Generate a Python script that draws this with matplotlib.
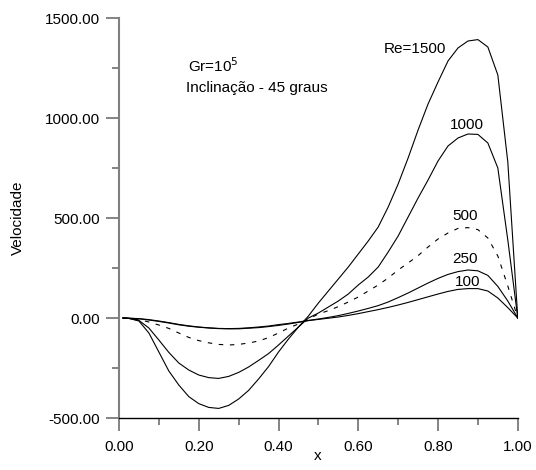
import numpy as np
import matplotlib.pyplot as plt
from matplotlib.ticker import MultipleLocator, FormatStrFormatter

plt.rcParams['font.family'] = ['Liberation Sans', 'DejaVu Sans']

# posicoes x
x = [0.01, 0.025, 0.05, 0.075, 0.10, 0.125, 0.15, 0.175, 0.20, 0.225,
     0.25, 0.275, 0.30, 0.325, 0.35, 0.375, 0.40, 0.425, 0.45, 0.475,
     0.50, 0.525, 0.55, 0.575, 0.60, 0.625, 0.65, 0.675, 0.70, 0.725,
     0.75, 0.775, 0.80, 0.825, 0.85, 0.875, 0.90, 0.925, 0.95, 0.975, 1.00]

re100 = [0, -1, -4, -10, -17, -25, -34, -41, -46, -50,
         -53, -54, -54, -51, -48, -43, -37, -30, -22, -13,
         -7, -1, 5, 13, 22, 32, 42, 53, 65, 78,
         92, 106, 120, 133, 143, 147, 147, 135, 100, 52, 0]
re250 = [0, -1, -3, -8, -15, -23, -32, -39, -45, -49,
         -52, -53, -52, -49, -45, -40, -33, -27, -20, -12,
         -5, 3, 12, 23, 35, 48, 62, 80, 102, 125,
         150, 175, 198, 218, 232, 240, 236, 213, 158, 85, 0]
re500 = [0, -2, -8, -20, -35, -52, -75, -97, -113, -124,
         -132, -135, -132, -125, -115, -98, -75, -50, -30, -5,
         20, 37, 57, 80, 105, 135, 165, 200, 240, 275,
         312, 355, 395, 425, 448, 452, 442, 400, 310, 160, 0]
re1000 = [0, -2, -12, -50, -110, -172, -225, -260, -285, -298,
          -302, -292, -272, -245, -212, -178, -135, -90, -45, 0,
          25, 55, 85, 120, 165, 205, 255, 330, 410, 505,
          600, 690, 785, 860, 900, 920, 918, 875, 750, 390, 0]
re1500 = [0, -2, -15, -75, -170, -265, -335, -393, -428, -447,
          -452, -437, -405, -362, -305, -243, -170, -105, -45, 10,
          75, 135, 195, 255, 320, 385, 455, 555, 670, 800,
          940, 1070, 1180, 1285, 1350, 1385, 1392, 1355, 1215, 780, 0]

rotulos = ['Re=1500', '1000', '500', '250', '100']

fig = plt.figure(figsize=(5.36, 4.70), dpi=100)
ax = fig.add_axes([0.222, 0.1106, 0.744, 0.8511])

ax.plot(x, re100, color='black', lw=0.8)
ax.plot(x, re250, color='black', lw=0.8)
ax.plot(x, re500, color='black', lw=0.8, dashes=(4, 6))
ax.plot(x, re1000, color='black', lw=0.8)
ax.plot(x, re1500, color='black', lw=0.8)

ax.set_xlim(0, 1)
ax.set_ylim(-500, 1500)
ax.xaxis.set_major_locator(MultipleLocator(0.2))
ax.xaxis.set_minor_locator(MultipleLocator(0.1))
ax.yaxis.set_major_locator(MultipleLocator(500))
ax.yaxis.set_minor_locator(MultipleLocator(250))
ax.xaxis.set_major_formatter(FormatStrFormatter('%.2f'))
ax.yaxis.set_major_formatter(FormatStrFormatter('%.2f'))

ax.spines['top'].set_visible(False)
ax.spines['right'].set_visible(False)
ax.spines['left'].set_color('#808080')
ax.spines['left'].set_linewidth(1.5)
ax.spines['bottom'].set_color('black')
ax.spines['bottom'].set_linewidth(1.0)
ax.tick_params(which='major', length=9.5, width=1.2, color='#707070',
               labelsize=11)
ax.tick_params(which='minor', length=4.8, width=1.2, color='#707070')
ax.tick_params(axis='x', which='major', pad=6)
ax.tick_params(axis='y', which='major', pad=4)

ax.set_xlabel('x', fontsize=11)
ax.xaxis.set_label_coords(0.4987, -0.078)
ax.set_ylabel('Velocidade', fontsize=11)
ax.yaxis.set_label_coords(-0.235, 0.5)

ax.text(0.173, 1262, 'Gr=10$^5$', fontsize=11, va='center')
ax.text(0.167, 1150, 'Inclinação - 45 graus', fontsize=11, va='center')

ax.text(0.742, 1343, rotulos[0], fontsize=11, ha='center', va='center')
ax.text(0.873, 965, rotulos[1], fontsize=11, ha='center', va='center')
ax.text(0.867, 510, rotulos[2], fontsize=11, ha='center', va='center')
ax.text(0.867, 293, rotulos[3], fontsize=11, ha='center', va='center')
ax.text(0.873, 182, rotulos[4], fontsize=11, ha='center', va='center')

fig.savefig('out.png', dpi=100)
